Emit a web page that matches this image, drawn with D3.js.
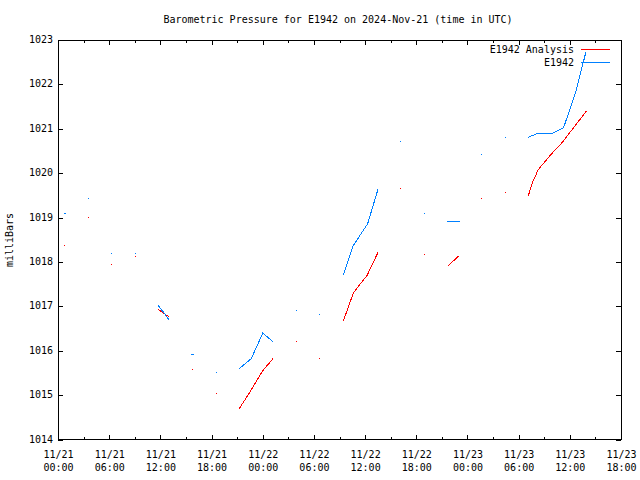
<!DOCTYPE html>
<html><head><meta charset="utf-8">
<script src="https://cdn.jsdelivr.net/npm/d3@7"></script>
<style>
body{margin:0;background:#fff;}
text{font-family:"DejaVu Sans Mono",monospace;font-size:10px;fill:#000;}
</style></head>
<body><svg id="c" width="640" height="480"></svg>
<script>
// Hours since 2024-11-21 00:00 UTC; null value = gap in the line
const analysisHours = [0.82,null,3.55,null,6.28,null,9.04,null,11.73,12.3,13.02,null,15.75,null,18.56,null,21.2,22.6,24.0,25.2,null,27.95,null,30.68,null,33.45,34.62,35.4,36.22,37.5,null,40.15,null,42.96,null,45.65,46.95,null,49.67,null,52.43,null,55.13,55.6,56.3,57.74,59.1,61.95];
const analysisValues = [1018.38,null,1019.01,null,1017.95,null,1018.13,null,1016.93,1016.86,1016.76,null,1015.57,null,1015.03,null,1014.68,1015.10,1015.55,1015.82,null,1016.20,null,1015.82,null,1016.67,1017.30,1017.50,1017.69,1018.21,null,1019.66,null,1018.16,null,1017.90,1018.13,null,1019.42,null,1019.57,null,1019.49,1019.78,1020.08,1020.41,1020.69,1021.40];
const obsHours = [0.7,0.95,null,3.55,null,6.28,null,9.04,null,11.73,12.4,13.02,null,15.65,15.9,null,18.56,null,21.2,22.65,24.01,25.26,null,27.95,null,30.68,null,33.45,34.62,36.3,37.5,null,40.15,null,42.96,null,45.65,47.1,null,49.67,null,52.43,null,55.13,56.3,58.0,59.26,60.7,61.9];
const obsValues = [1019.10,1019.10,null,1019.42,null,1018.20,null,1018.20,null,1017.02,1016.86,1016.69,null,1015.91,1015.91,null,1015.50,null,1015.59,1015.82,1016.40,1016.19,null,1016.90,null,1016.81,null,1017.71,1018.37,1018.86,1019.63,null,1020.72,null,1019.10,null,1018.90,1018.90,null,1020.41,null,1020.81,null,1020.81,1020.90,1020.90,1021.02,1021.83,1022.74];
const xTickHours = [0,6,12,18,24,30,36,42,48,54,60,66];
const xTickDates = ["11/21","11/21","11/21","11/21","11/22","11/22","11/22","11/22","11/23","11/23","11/23","11/23"];
const xTickTimes = ["00:00","06:00","12:00","18:00","00:00","06:00","12:00","18:00","00:00","06:00","12:00","18:00"];
const yTicks = [1014,1015,1016,1017,1018,1019,1020,1021,1022,1023];
const seriesNames = ["E1942 Analysis","E1942"];
const seriesColors = ["#ff0000","#0080ff"];

const svg = d3.select("#c");
const L=58,R=621,T=40,B=439.5;
const x = d3.scaleLinear().domain([0,66]).range([L,R]);
const y = d3.scaleLinear().domain([1014,1023]).range([B,T]);

// title
svg.append("text").attr("x",338).attr("y",23).attr("text-anchor","middle")
  .text("Barometric Pressure for E1942 on 2024-Nov-21 (time in UTC)");
// y label
svg.append("text").attr("transform","translate(13,240) rotate(-90)").attr("text-anchor","middle").text("milliBars");

const minorX = d3.range(3,66,6);
// bottom axis
const gB = svg.append("g").attr("transform",`translate(0,${B})`)
  .call(d3.axisBottom(x).tickValues(xTickHours).tickSize(-5).tickPadding(0).tickFormat(""));
gB.select(".domain").remove();
gB.selectAll(".tick line").attr("stroke","#000").attr("shape-rendering","crispEdges");
gB.selectAll(".tick").each(function(d,i){
  const t=d3.select(this).append("text").attr("text-anchor","middle").attr("fill","#000");
  t.append("tspan").attr("x",0).attr("y",18).text(xTickDates[i]);
  t.append("tspan").attr("x",0).attr("y",31).text(xTickTimes[i]);
});
const gBm = svg.append("g").attr("transform",`translate(0,${B})`)
  .call(d3.axisBottom(x).tickValues(minorX).tickSize(-3).tickFormat(""));
gBm.select(".domain").remove();
gBm.selectAll(".tick line").attr("shape-rendering","crispEdges");
// top axis
const gT = svg.append("g").attr("transform",`translate(0,${T})`)
  .call(d3.axisTop(x).tickValues(xTickHours).tickSize(-5).tickFormat(""));
gT.select(".domain").remove();
gT.selectAll(".tick line").attr("shape-rendering","crispEdges");
const gTm = svg.append("g").attr("transform",`translate(0,${T})`)
  .call(d3.axisTop(x).tickValues(minorX).tickSize(-3).tickFormat(""));
gTm.select(".domain").remove();
gTm.selectAll(".tick line").attr("shape-rendering","crispEdges");
// left axis
const gL = svg.append("g").attr("transform",`translate(${L},0)`)
  .call(d3.axisLeft(y).tickValues(yTicks).tickSize(-5).tickPadding(6).tickFormat(d3.format("d")));
gL.select(".domain").remove();
gL.selectAll(".tick line").attr("shape-rendering","crispEdges");
gL.selectAll(".tick text").attr("x",-5).attr("dy","0.25em").style("font-family","'DejaVu Sans Mono',monospace").style("font-size","10px");
// right axis
const gR = svg.append("g").attr("transform",`translate(${R},0)`)
  .call(d3.axisRight(y).tickValues(yTicks).tickSize(-5).tickFormat(""));
gR.select(".domain").remove();
gR.selectAll(".tick line").attr("shape-rendering","crispEdges");

// frame
svg.append("rect").attr("x",L).attr("y",T).attr("width",R-L).attr("height",B-T)
  .attr("fill","none").attr("stroke","#000").attr("shape-rendering","crispEdges");

function drawSeries(hours, values, color){
  const pts = hours.map((h,i)=>({h, v: values[i]}));
  const line = d3.line().defined(d=>d.v!=null).x(d=>x(d.h)).y(d=>y(d.v));
  svg.append("path").datum(pts).attr("d",line).attr("fill","none")
    .attr("stroke",color).attr("stroke-width",1).attr("shape-rendering","crispEdges");
  // isolated points
  const iso = pts.filter((d,i)=>d.v!=null && (i===0||pts[i-1].v==null) && (i===pts.length-1||pts[i+1].v==null));
  svg.append("g").selectAll("rect").data(iso).join("rect")
    .attr("x",d=>Math.floor(x(d.h))).attr("y",d=>Math.floor(y(d.v)))
    .attr("width",1).attr("height",1).attr("fill",color).attr("shape-rendering","crispEdges");
}
drawSeries(analysisHours, analysisValues, seriesColors[0]);
drawSeries(obsHours, obsValues, seriesColors[1]);

// legend
seriesNames.forEach((n,i)=>{
  const yy = 49.5 + i*13;
  svg.append("text").attr("x",574).attr("y",yy+3.5).attr("text-anchor","end").text(n);
  svg.append("line").attr("x1",581).attr("x2",610).attr("y1",yy).attr("y2",yy)
    .attr("stroke",seriesColors[i]).attr("stroke-width",1).attr("shape-rendering","crispEdges");
});
</script></body></html>
